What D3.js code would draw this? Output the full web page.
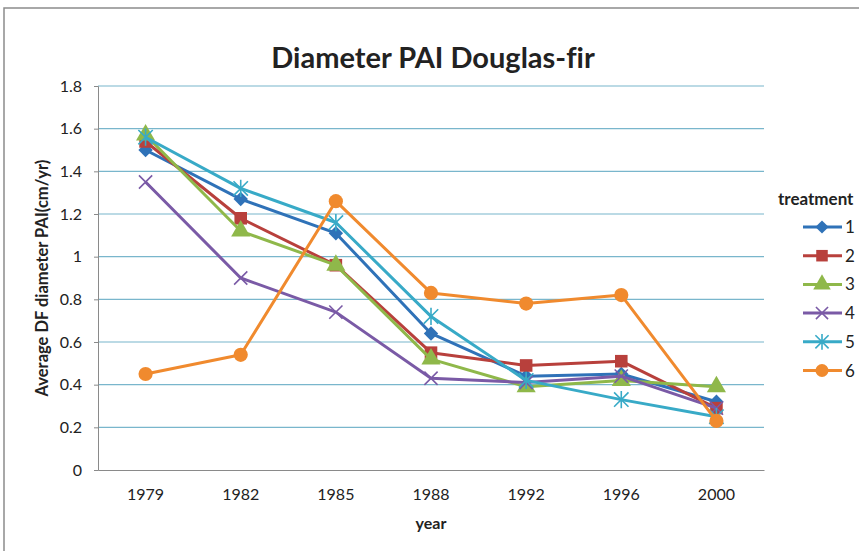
<!DOCTYPE html>
<html>
<head>
<meta charset="utf-8">
<script src="https://cdn.jsdelivr.net/npm/d3@7"></script>
<style>
    body { margin: 0; background: #fff; }
    text { font-family: Lato, "Open Sans", sans-serif; fill: #222; font-variant-ligatures: none; }
</style>
</head>
<body>
<div class="chart"></div>
<script>
// chart data
let years = ["1979", "1982", "1985", "1988", "1992", "1996", "2000"];
let treatments = ["1", "2", "3", "4", "5", "6"];
let t1 = [1.50, 1.27, 1.11, 0.64, 0.44, 0.45, 0.32];
let t2 = [1.54, 1.18, 0.96, 0.55, 0.49, 0.51, 0.29];
let t3 = [1.57, 1.12, 0.96, 0.52, 0.39, 0.42, 0.39];
let t4 = [1.35, 0.90, 0.74, 0.43, 0.41, 0.44, 0.29];
let t5 = [1.56, 1.32, 1.16, 0.72, 0.42, 0.33, 0.25];
let t6 = [0.45, 0.54, 1.26, 0.83, 0.78, 0.82, 0.23];
let yTicks = [0, 0.2, 0.4, 0.6, 0.8, 1, 1.2, 1.4, 1.6, 1.8];

let seriesValues = [t1, t2, t3, t4, t5, t6];
let colors = ["#2f72b8", "#b8403c", "#8fb84a", "#7a5aa6", "#38aac7", "#f08a2e"];
let symbols = ["diamond", d3.symbolSquare, d3.symbolTriangle, "x", "star", d3.symbolCircle];

let series = treatments.map((t, i) => ({
    name: t,
    color: colors[i],
    symbol: symbols[i],
    values: seriesValues[i].map((v, j) => ({year: years[j], value: v}))
}));

let W = 859, H = 551;
let margin = {top: 86, right: 95, bottom: 81, left: 98};

let svg = d3.select(".chart").append("svg")
    .attr("width", W)
    .attr("height", H);

// outer chart border
svg.append("rect")
    .attr("x", 4).attr("y", 8)
    .attr("width", W + 10).attr("height", H + 10)
    .attr("fill", "#fff")
    .attr("stroke", "#8c8c8c")
    .attr("stroke-width", 1.5);

let x = d3.scaleBand()
    .domain(years)
    .range([margin.left, W - margin.right]);

let y = d3.scaleLinear()
    .domain([0, 1.8])
    .range([H - margin.bottom, margin.top]);

// gridlines
svg.append("g")
    .selectAll("line")
    .data(yTicks.slice(1))
    .enter()
    .append("line")
    .attr("x1", margin.left)
    .attr("x2", W - margin.right)
    .attr("y1", d => y(d))
    .attr("y2", d => y(d))
    .attr("stroke", "#79b6cc")
    .attr("stroke-width", 1.2);

// y axis
let yAxis = svg.append("g")
    .attr("transform", `translate(${margin.left},0)`)
    .call(d3.axisLeft(y).tickValues(yTicks).tickSize(4).tickPadding(12).tickFormat(d => d3.format("")(+d.toFixed(1))));
yAxis.selectAll("text").style("font-size", "16px").attr("fill", "#222");
yAxis.selectAll("line").attr("stroke", "#8a8a8a");
yAxis.select(".domain").attr("stroke", "#8a8a8a");

// x axis
let xAxis = svg.append("g")
    .attr("transform", `translate(0,${H - margin.bottom})`)
    .call(d3.axisBottom(x).tickSize(0).tickPadding(19));
xAxis.selectAll("text").style("font-size", "16px").attr("fill", "#222");
xAxis.select(".domain").attr("stroke", "#8a8a8a");

// title
svg.append("text")
    .attr("x", 433).attr("y", 68)
    .attr("text-anchor", "middle")
    .style("font-size", "29px")
    .style("font-weight", "bold")
    .text("Diameter PAI Douglas-fir");

// axis titles
svg.append("text")
    .attr("x", x("1988") + x.bandwidth() / 2)
    .attr("y", 529)
    .attr("text-anchor", "middle")
    .style("font-size", "16px")
    .style("font-weight", "bold")
    .text("year");

svg.append("text")
    .attr("transform", `translate(48,${(margin.top + H - margin.bottom) / 2}) rotate(-90)`)
    .attr("text-anchor", "middle")
    .style("font-size", "16.5px")
    .style("font-weight", "bold")
    .text("Average DF diameter PAI(cm/yr)");

// marker drawing
function drawMarker(g, s, size) {
    if (s.symbol === "x") {
        let r = size * 0.55;
        g.append("path")
            .attr("d", `M${-r},${-r}L${r},${r}M${-r},${r}L${r},${-r}`)
            .attr("stroke", s.color).attr("stroke-width", 1.6).attr("fill", "none");
    } else if (s.symbol === "star") {
        let r = size * 0.6;
        g.append("path")
            .attr("d", `M${-r},${-r}L${r},${r}M${-r},${r}L${r},${-r}M0,${-r * 1.2}L0,${r * 1.2}`)
            .attr("stroke", s.color).attr("stroke-width", 1.6).attr("fill", "none");
    } else if (s.symbol === "diamond") {
        let r = size * 0.6;
        g.append("path")
            .attr("d", `M0,${-r}L${r},0L0,${r}L${-r},0Z`)
            .attr("fill", s.color);
    } else {
        g.append("path")
            .attr("d", d3.symbol().type(s.symbol).size(size * size * 1.1)())
            .attr("fill", s.color);
    }
}

let line = d3.line()
    .x(d => x(d.year) + x.bandwidth() / 2)
    .y(d => y(d.value));

let groups = svg.selectAll(".series")
    .data(series)
    .enter()
    .append("g")
    .attr("class", "series");

groups.append("path")
    .attr("d", d => line(d.values))
    .attr("fill", "none")
    .attr("stroke", d => d.color)
    .attr("stroke-width", 3)
    .attr("stroke-linejoin", "round");

groups.each(function (s) {
    let g = d3.select(this);
    s.values.forEach(function (p) {
        let m = g.append("g")
            .attr("transform", `translate(${x(p.year) + x.bandwidth() / 2},${y(p.value)})`);
        drawMarker(m, s, 12);
    });
});

// legend
let legend = svg.append("g");
legend.append("text")
    .attr("x", 778).attr("y", 205)
    .style("font-size", "17px")
    .style("font-weight", "bold")
    .text("treatment");

series.forEach(function (s, i) {
    let ly = 227 + i * 28.7;
    let item = legend.append("g").attr("transform", `translate(0,${ly})`);
    item.append("line")
        .attr("x1", 803).attr("x2", 842)
        .attr("stroke", s.color).attr("stroke-width", 3);
    let m = item.append("g").attr("transform", "translate(822,0)");
    drawMarker(m, s, 11);
    item.append("text")
        .attr("x", 845).attr("y", 6)
        .style("font-size", "17px")
        .text(s.name);
});
</script>
</body>
</html>
